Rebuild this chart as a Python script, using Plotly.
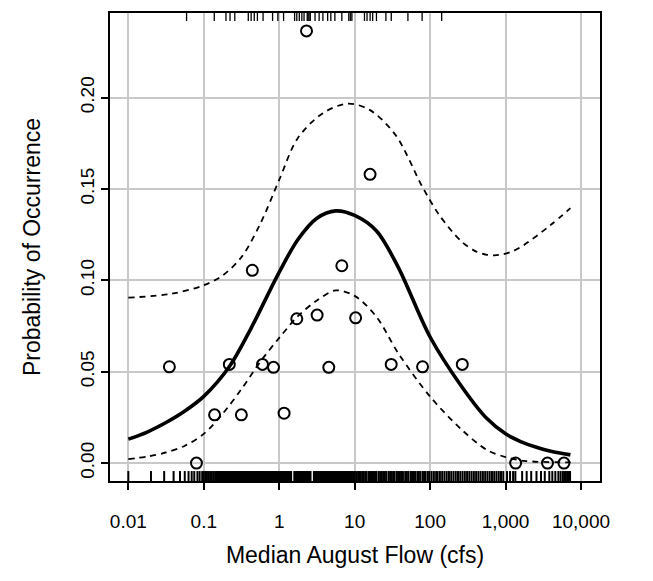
import plotly.graph_objects as go

# ---------------- data ----------------
# binned observed proportions
point_flow = [0.035, 0.218, 0.44, 0.60, 0.84, 1.71, 3.18, 4.54, 6.76, 0.139, 0.315, 1.16,
              0.080, 10.3, 30.5, 79.4, 267, 1361, 3597, 5943, 2.30, 16.0]
point_prob = [0.0527, 0.054, 0.1055, 0.054, 0.0524, 0.079, 0.081, 0.0524, 0.108, 0.0264, 0.0264, 0.0273,
              0.0, 0.0795, 0.054, 0.0527, 0.054, 0.0, 0.0, 0.0, 0.2365, 0.158]

# fitted curve
fit_flow = [0.01, 0.0178, 0.0316, 0.0562, 0.1, 0.22, 0.42, 1, 1.78, 3.16, 5.6, 10, 19.5, 38, 100, 263,
            562, 1000, 1585, 2630, 3981, 7244]
fit_prob = [0.0131, 0.0170, 0.0222, 0.0285, 0.0365, 0.0530, 0.0735, 0.1045, 0.1225, 0.1340, 0.138, 0.1355,
            0.127, 0.107, 0.069, 0.0418, 0.0245, 0.0160, 0.0118, 0.0085, 0.0065, 0.0045]

# lower confidence band
lo_flow = [0.01, 0.0178, 0.0316, 0.0562, 0.1, 0.178, 0.316, 0.562, 1, 1.78, 3.16, 5.6, 10, 19.5, 38, 100,
           263, 562, 1000, 1778, 7244]
lo_prob = [0.0022, 0.0036, 0.0058, 0.0095, 0.0160, 0.0270, 0.0405, 0.0555, 0.0685, 0.0805, 0.089, 0.0945,
           0.0915, 0.080, 0.060, 0.0364, 0.0182, 0.0073, 0.0033, 0.0012, 0.0004]

# upper confidence band
hi_flow = [0.01, 0.038, 0.1, 0.178, 0.316, 0.562, 1, 1.76, 3.8, 8.1, 15.8, 34.7, 79.4, 132, 257, 398,
           562, 708, 912, 1259, 1778, 3890, 7244]
hi_prob = [0.0905, 0.0927, 0.0973, 0.1027, 0.1127, 0.131, 0.155, 0.1778, 0.1915, 0.1967, 0.1933, 0.1796,
           0.151, 0.1358, 0.1215, 0.1160, 0.1140, 0.1137, 0.1142, 0.1160, 0.1195, 0.1300, 0.1395]

# rug: sites where the species was present (top) and absent (bottom), log10 of flow
present_log10 = [-1.228, -0.861, -0.706, -0.652, -0.589, -0.410, -0.372, -0.331, -0.289, -0.214, -0.088,
                 -0.018, 0.058, 0.204, 0.233, 0.266, 0.300, 0.329, 0.371, 0.383, 0.396, 0.412, 0.475,
                 0.529, 0.579, 0.642, 0.684, 0.738, 0.830, 0.922, 0.942, 0.963, 1.130, 1.164, 1.205,
                 1.239, 1.289, 1.414, 1.485, 1.706, 1.894, 2.153]
absent_log10 = [
    -2.0, -1.70, -1.525, -1.40, -1.315, -1.252, -1.202, -1.16, -1.126, -1.084, -1.055, -1.021, -1.0,
    -0.979, -0.958, -0.937, -0.916, -0.895, -0.874, -0.85,
    -0.83, -0.815, -0.80, -0.785, -0.77, -0.757, -0.742, -0.728, -0.713, -0.70, -0.685, -0.671, -0.657,
    -0.642, -0.628, -0.613, -0.60, -0.585, -0.57, -0.556, -0.542, -0.528, -0.513, -0.50, -0.485, -0.47,
    -0.456, -0.442, -0.428, -0.413, -0.40, -0.385, -0.37, -0.356, -0.342, -0.328, -0.313, -0.30, -0.285,
    -0.27, -0.256, -0.242, -0.228, -0.213, -0.20, -0.185, -0.17, -0.156, -0.142, -0.128, -0.113, -0.10,
    -0.085, -0.07, -0.056, -0.042, -0.028, -0.013, 0.0, 0.015, 0.03, 0.044, 0.058, 0.072, 0.087, 0.10,
    0.115, 0.13, 0.144, 0.158, 0.20, 0.215, 0.23, 0.244, 0.258, 0.272, 0.287, 0.30, 0.315, 0.33, 0.344,
    0.358, 0.372, 0.387, 0.40, 0.415, 0.46, 0.475, 0.49, 0.505, 0.52, 0.535, 0.55, 0.565, 0.58, 0.595,
    0.61, 0.625, 0.64, 0.655, 0.67, 0.685, 0.70, 0.715, 0.73, 0.745, 0.76, 0.775, 0.79, 0.805, 0.82,
    0.835, 0.85, 0.865, 0.88, 0.895, 0.91, 0.925, 0.94, 0.955, 0.97, 0.985, 1.0,
    1.02, 1.045, 1.06, 1.08, 1.10, 1.12, 1.14, 1.16, 1.19, 1.21, 1.23, 1.25, 1.27, 1.29, 1.32, 1.34,
    1.36, 1.38, 1.40, 1.42, 1.45, 1.47, 1.49, 1.51, 1.53, 1.56, 1.58, 1.60, 1.62, 1.64, 1.67, 1.69,
    1.71, 1.74, 1.76, 1.78, 1.80, 1.83, 1.85, 1.87, 1.90, 1.92, 1.94, 1.97, 1.99, 2.02, 2.05, 2.08,
    2.10, 2.13, 2.16, 2.19, 2.22, 2.25, 2.28, 2.31, 2.34, 2.37, 2.40, 2.43, 2.46, 2.49, 2.52, 2.55,
    2.58, 2.61, 2.64, 2.67, 2.70, 2.73, 2.76, 2.79, 2.82, 2.85, 2.88, 2.91, 2.94, 2.97,
    3.02, 3.06, 3.10, 3.13, 3.22, 3.28, 3.34, 3.41, 3.47, 3.52, 3.58, 3.62, 3.66, 3.70, 3.73, 3.76,
    3.78, 3.80, 3.82, 3.84, 3.855]

x_tickvals = [0.01, 0.1, 1, 10, 100, 1000, 10000]
x_ticktext = ["0.01", "0.1", "1", "10", "100", "1,000", "10,000"]
y_tickvals = [0.0, 0.05, 0.10, 0.15, 0.20]
y_ticktext = ["0.00", "0.05", "0.10", "0.15", "0.20"]

# ---------------- figure ----------------
FONT = "Liberation Sans, Arial, Helvetica, sans-serif"
W, H = 653, 581
ML, MR, MT, MB = 110, 53, 11, 100
plot_h = H - MT - MB

fig = go.Figure()

# confidence bands (dashed)
for fx, fy in [(hi_flow, hi_prob), (lo_flow, lo_prob)]:
    fig.add_trace(go.Scatter(x=fx, y=fy, mode="lines", line=dict(color="black", width=1.8, dash="6px,5px",
                                                                  shape="spline", smoothing=0.9),
                             hoverinfo="skip", showlegend=False))
# fitted curve
fig.add_trace(go.Scatter(x=fit_flow, y=fit_prob, mode="lines",
                         line=dict(color="black", width=3.6, shape="spline", smoothing=0.9),
                         showlegend=False))
# observed points
fig.add_trace(go.Scatter(x=point_flow, y=point_prob, mode="markers",
                         marker=dict(symbol="circle-open", size=11, color="black", line=dict(width=2)),
                         showlegend=False))

# rugs on an overlaid 0..1 axis
bot_len = 10 / plot_h
top_len = 8 / plot_h
rx, ry = [], []
for v in absent_log10:
    rx += [10 ** v, 10 ** v, None]
    ry += [0, bot_len, None]
fig.add_trace(go.Scatter(x=rx, y=ry, mode="lines", line=dict(color="black", width=2.0),
                         yaxis="y2", hoverinfo="skip", showlegend=False))
tx, ty = [], []
for v in present_log10:
    tx += [10 ** v, 10 ** v, None]
    ty += [1, 1 - top_len, None]
fig.add_trace(go.Scatter(x=tx, y=ty, mode="lines", line=dict(color="black", width=1.3),
                         yaxis="y2", hoverinfo="skip", showlegend=False))

fig.update_layout(
    width=W, height=H,
    margin=dict(l=ML, r=MR, t=MT, b=MB, pad=0),
    paper_bgcolor="white", plot_bgcolor="white",
    font=dict(family=FONT, size=19, color="black"),
    xaxis=dict(type="log", range=[-2.243, 4.252], tickvals=x_tickvals, ticktext=x_ticktext,
               ticks="outside", ticklen=7, tickwidth=1.5, tickcolor="black", ticklabelstandoff=15,
               showline=True, mirror=True, linecolor="black", linewidth=1.5,
               showgrid=True, gridcolor="#c8c8c8", gridwidth=1.6, zeroline=False,
               title=dict(text="Median August Flow (cfs)", standoff=16),
               tickfont=dict(size=19)),
    yaxis=dict(range=[-0.0098, 0.2463], tickvals=y_tickvals, ticktext=y_ticktext,
               ticks="outside", ticklen=7, tickwidth=1.5, tickcolor="black", tickangle=-90,
               showline=True, mirror=True, linecolor="black", linewidth=1.5,
               showgrid=True, gridcolor="#c8c8c8", gridwidth=1.6, zeroline=False,
               title=dict(text="Probability of Occurrence", standoff=30),
               tickfont=dict(size=19)),
    yaxis2=dict(range=[0, 1], overlaying="y", visible=False, fixedrange=True),
)

fig.write_html("out.html")
